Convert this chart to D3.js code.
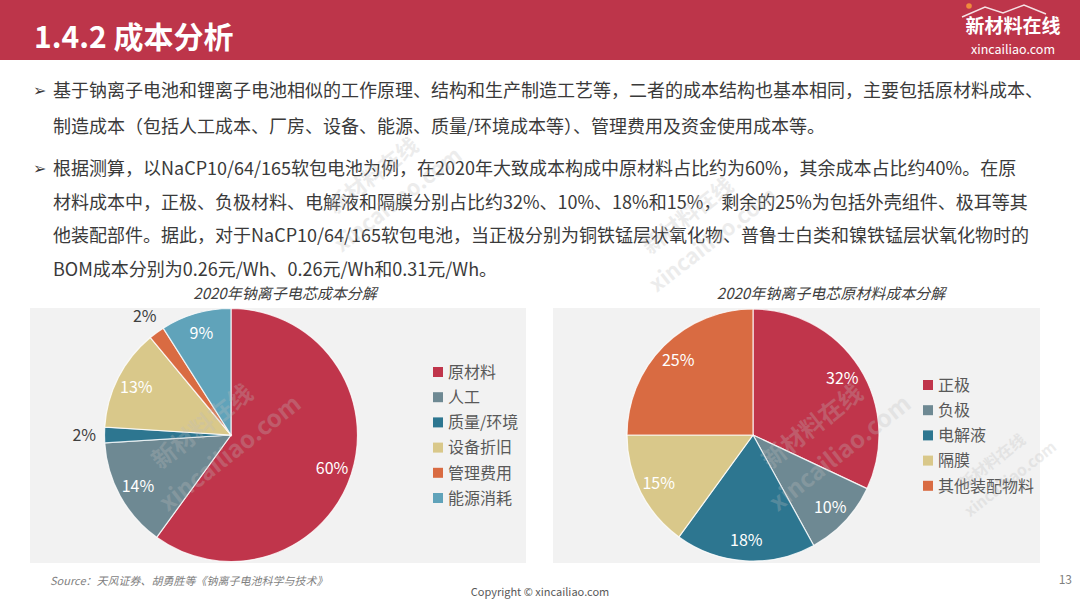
<!DOCTYPE html>
<html><head><meta charset="utf-8">
<script src="https://cdn.jsdelivr.net/npm/d3@7"></script>
<style>
html,body{margin:0;padding:0;background:#fff;}
svg{display:block;font-family:"Noto Sans CJK SC","Noto Sans",sans-serif;}
</style></head>
<body>
<svg id="c" width="1080" height="607"></svg>
<script>
// ---- data ----
const pageTitle = "1.4.2 成本分析";
const paragraph1 = [
  "基于钠离子电池和锂离子电池相似的工作原理、结构和生产制造工艺等，二者的成本结构也基本相同，主要包括原材料成本、",
  "制造成本（包括人工成本、厂房、设备、能源、质量/环境成本等）、管理费用及资金使用成本等。"
];
const paragraph2 = [
  "根据测算，以NaCP10/64/165软包电池为例，在2020年大致成本构成中原材料占比约为60%，其余成本占比约40%。在原",
  "材料成本中，正极、负极材料、电解液和隔膜分别占比约32%、10%、18%和15%，剩余的25%为包括外壳组件、极耳等其",
  "他装配部件。据此，对于NaCP10/64/165软包电池，当正极分别为铜铁锰层状氧化物、普鲁士白类和镍铁锰层状氧化物时的",
  "BOM成本分别为0.26元/Wh、0.26元/Wh和0.31元/Wh。"
];
const chart1Title = "2020年钠离子电芯成本分解";
const chart1Categories = ["原材料","人工","质量/环境","设备折旧","管理费用","能源消耗"];
const chart1Values = [60, 14, 2, 13, 2, 9];
const chart2Title = "2020年钠离子电芯原材料成本分解";
const chart2Categories = ["正极","负极","电解液","隔膜","其他装配物料"];
const chart2Values = [32, 10, 18, 15, 25];
const sourceText = "Source：天风证券、胡勇胜等《钠离子电池科学与技术》";
const copyrightText = "Copyright © xincailiao.com";
const pageNumber = "13";

// ---- styles ----
const headerRed = "#BD354A";
const palette1 = ["#C0354B","#6E8993","#2D7690","#D9C88A","#D96B42","#60A3BA"];
const palette2 = ["#C0354B","#6E8993","#2D7690","#D9C88A","#D96B42"];
const textColor = "#3A3A3A";

const svg = d3.select("#c");

// header
svg.append("rect").attr("x",0).attr("y",0).attr("width",1080).attr("height",60).attr("fill",headerRed);
svg.append("text").attr("x",34).attr("y",48).attr("fill","#fff")
  .attr("font-size",30).attr("font-weight",700).text(pageTitle);

// logo
const logo = svg.append("g");
logo.append("path").attr("d","M962,17 L985,7 L1003,13 L1024,5 L1046,14")
  .attr("fill","none").attr("stroke","#fff").attr("stroke-width",1.5).attr("opacity",0.85);
logo.append("circle").attr("cx",969).attr("cy",6).attr("r",2.8).attr("fill","#F08C3C");
logo.append("text").attr("x",1013).attr("y",33).attr("text-anchor","middle").attr("fill","#fff")
  .attr("font-size",19).attr("font-weight",700).text("新材料在线");
logo.append("text").attr("x",1013).attr("y",54).attr("text-anchor","middle").attr("fill","#fff")
  .attr("font-size",12.5).text("xincailiao.com");

// paragraphs
function para(lines, y0, step){
  svg.append("text").attr("x",33).attr("y",y0-1).attr("fill",textColor)
    .attr("font-family","DejaVu Sans").attr("font-size",16).text("➢");
  lines.forEach((l,i)=>{
    svg.append("text").attr("x",53).attr("y",y0+i*step).attr("fill",textColor)
      .attr("font-size",18).text(l);
  });
}
para(paragraph1, 97, 36);
para(paragraph2, 175, 33.7);

// panels
svg.append("rect").attr("x",30).attr("y",308).attr("width",496).attr("height",255).attr("fill","#F2F2F2");
svg.append("rect").attr("x",553).attr("y",308).attr("width",487).attr("height",255).attr("fill","#F2F2F2");

function pieChart(cx, cy, r, cats, vals, colors, title, titleX, legendX, legendY0){
  const g = svg.append("g").attr("transform",`translate(${cx},${cy})`);
  const pie = d3.pie().sort(null).value(d=>d.v);
  const data = pie(cats.map((c,i)=>({c, v:vals[i], color:colors[i]})));
  const arc = d3.arc().innerRadius(0).outerRadius(r);
  g.selectAll("path.s").data(data).join("path").attr("class","s")
    .attr("d",arc).attr("fill",d=>d.data.color)
    .attr("stroke","#fff").attr("stroke-width",1.2).attr("stroke-opacity",0.8);
  const inArc = d3.arc().innerRadius(r*0.84).outerRadius(r*0.84);
  const outArc = d3.arc().innerRadius(r*1.16).outerRadius(r*1.16);
  g.selectAll("text.l").data(data).join("text").attr("class","l")
    .attr("transform",d=>{
      const small = d.data.v < 5;
      const p = (small?outArc:inArc).centroid(d);
      return `translate(${p[0]},${p[1]})`;
    })
    .attr("text-anchor","middle").attr("dy","0.36em")
    .attr("font-size",16)
    .attr("fill",d=>d.data.v<5?"#404040":"#fff")
    .text(d=>d.data.v+"%");
  svg.append("text").attr("x",titleX).attr("y",299).attr("text-anchor","middle")
    .attr("font-size",15).attr("font-style","italic").attr("fill","#404040").text(title);
  const lg = svg.append("g");
  cats.forEach((c,i)=>{
    const y = legendY0 + i*25.2;
    lg.append("rect").attr("x",legendX).attr("y",y-5).attr("width",10).attr("height",10).attr("fill",colors[i]);
    lg.append("text").attr("x",legendX+15).attr("y",y).attr("dy","0.36em")
      .attr("font-size",16).attr("fill","#595959").text(c);
  });
}
pieChart(231, 435, 126.5, chart1Categories, chart1Values, palette1, chart1Title, 285, 433, 372);
pieChart(753, 435, 126, chart2Categories, chart2Values, palette2, chart2Title, 831, 923, 385);

// watermarks
function watermark(x, y, s){
  const g = svg.append("g").attr("transform",`translate(${x},${y}) rotate(-38)`)
    .attr("opacity",0.28).attr("font-weight",700);
  g.append("text").attr("x",0).attr("y",0).attr("font-size",24*s).attr("fill","#bdbdbd").text("新材料在线");
  g.append("text").attr("x",-20*s).attr("y",38*s).attr("font-size",24*s).attr("fill","#bdbdbd").text("xincailiao.com");
}
watermark(160, 470, 1);
watermark(335, 215, 0.9);
watermark(650, 255, 0.9);
watermark(770, 470, 1);
watermark(965, 490, 0.65);

// footer
svg.append("text").attr("x",50).attr("y",585).attr("font-size",11).attr("font-style","italic")
  .attr("fill","#7F7F7F").text(sourceText);
svg.append("text").attr("x",540).attr("y",596).attr("text-anchor","middle").attr("font-size",11)
  .attr("fill","#595959").text(copyrightText);
svg.append("text").attr("x",1072).attr("y",584).attr("text-anchor","end").attr("font-size",12)
  .attr("fill","#7F7F7F").text(pageNumber);
</script>
</body></html>
